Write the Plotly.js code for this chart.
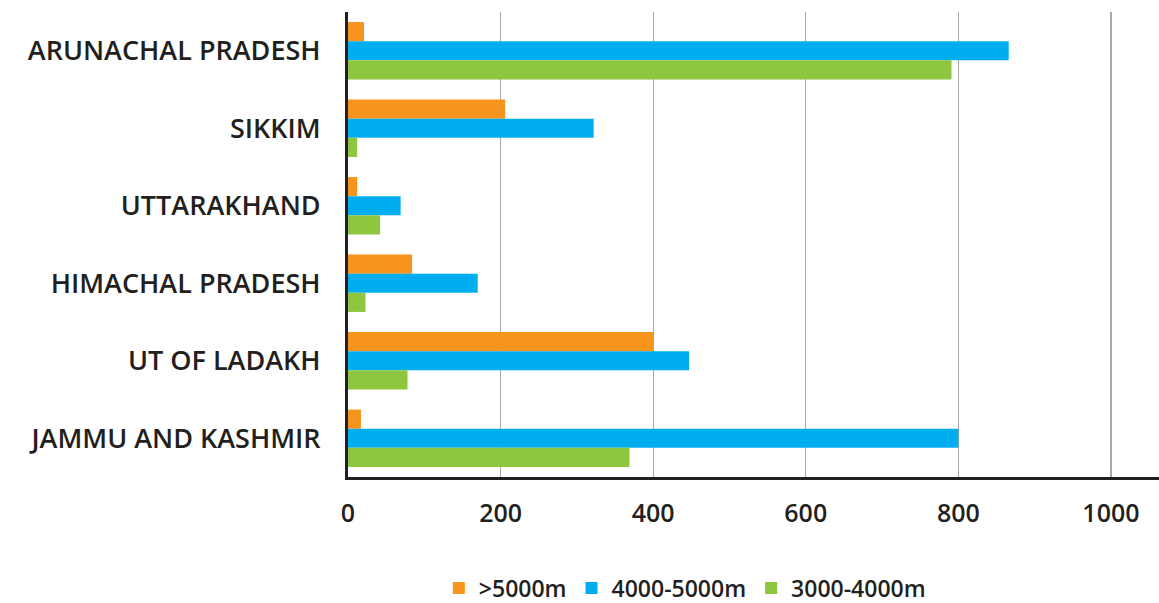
<!DOCTYPE html>
<html>
<head>
<meta charset="utf-8">
<script src="https://cdn.plot.ly/plotly-3.0.1.min.js"></script>
<style>html,body{margin:0;padding:0;background:#fff;}#chart{width:1159px;height:603px;}</style>
</head>
<body>
<div id="chart"></div>
<script>
const categories = ["ARUNACHAL PRADESH", "SIKKIM", "UTTARAKHAND", "HIMACHAL PRADESH", "UT OF LADAKH", "JAMMU AND KASHMIR"];
const seriesNames = [">5000m", "4000-5000m", "3000-4000m"];
const above5000 = [21, 206, 12, 84, 401, 17];
const from4000to5000 = [866, 322, 69, 170, 447, 800];
const from3000to4000 = [791, 12, 42, 23, 78, 369];
const xTicks = [0, 200, 400, 600, 800, 1000];
const colors = ["#F7941D", "#00AEEF", "#8DC63F"];

const seriesValues = [above5000, from4000to5000, from3000to4000];
const traces = seriesValues.map((vals, i) => ({
  type: "bar",
  orientation: "h",
  name: seriesNames[i],
  y: categories,
  x: vals,
  marker: {color: colors[i]},
  hoverinfo: "x+name"
}));

const font = "'Open Sans', Lato, sans-serif";
const layout = {
  width: 1159, height: 603,
  margin: {l: 348, r: 0, t: 12, b: 126, autoexpand: false},
  paper_bgcolor: "#fff", plot_bgcolor: "#fff",
  barmode: "group",
  bargap: 0.26,
  bargroupgap: 0,
  font: {family: font, color: "#231F20"},
  xaxis: {
    range: [0, 1063],
    tickvals: xTicks,
    ticktext: xTicks.map(String),
    showgrid: true, gridcolor: "#a8a8a8", gridwidth: 1.2,
    zeroline: false,
    showline: true, linecolor: "#231F20", linewidth: 3,
    ticks: "", ticklabelstandoff: 12,
    tickfont: {size: 25, family: font, color: "#231F20", weight: 600}
  },
  yaxis: {
    autorange: "reversed",
    showgrid: false, zeroline: false,
    showline: true, linecolor: "#231F20", linewidth: 3,
    ticks: "", ticklabelstandoff: 19,
    tickfont: {size: 27, family: font, color: "#231F20", weight: 600}
  },
  showlegend: true,
  legend: {
    orientation: "h",
    xref: "paper", x: 0.112, xanchor: "left",
    yref: "container", y: 0.025, yanchor: "middle",
    font: {size: 23, family: font, color: "#231F20", weight: 600},
    itemwidth: 30,
    traceorder: "normal"
  }
};

Plotly.newPlot("chart", traces, layout, {displayModeBar: false, staticPlot: true});
</script>
</body>
</html>
